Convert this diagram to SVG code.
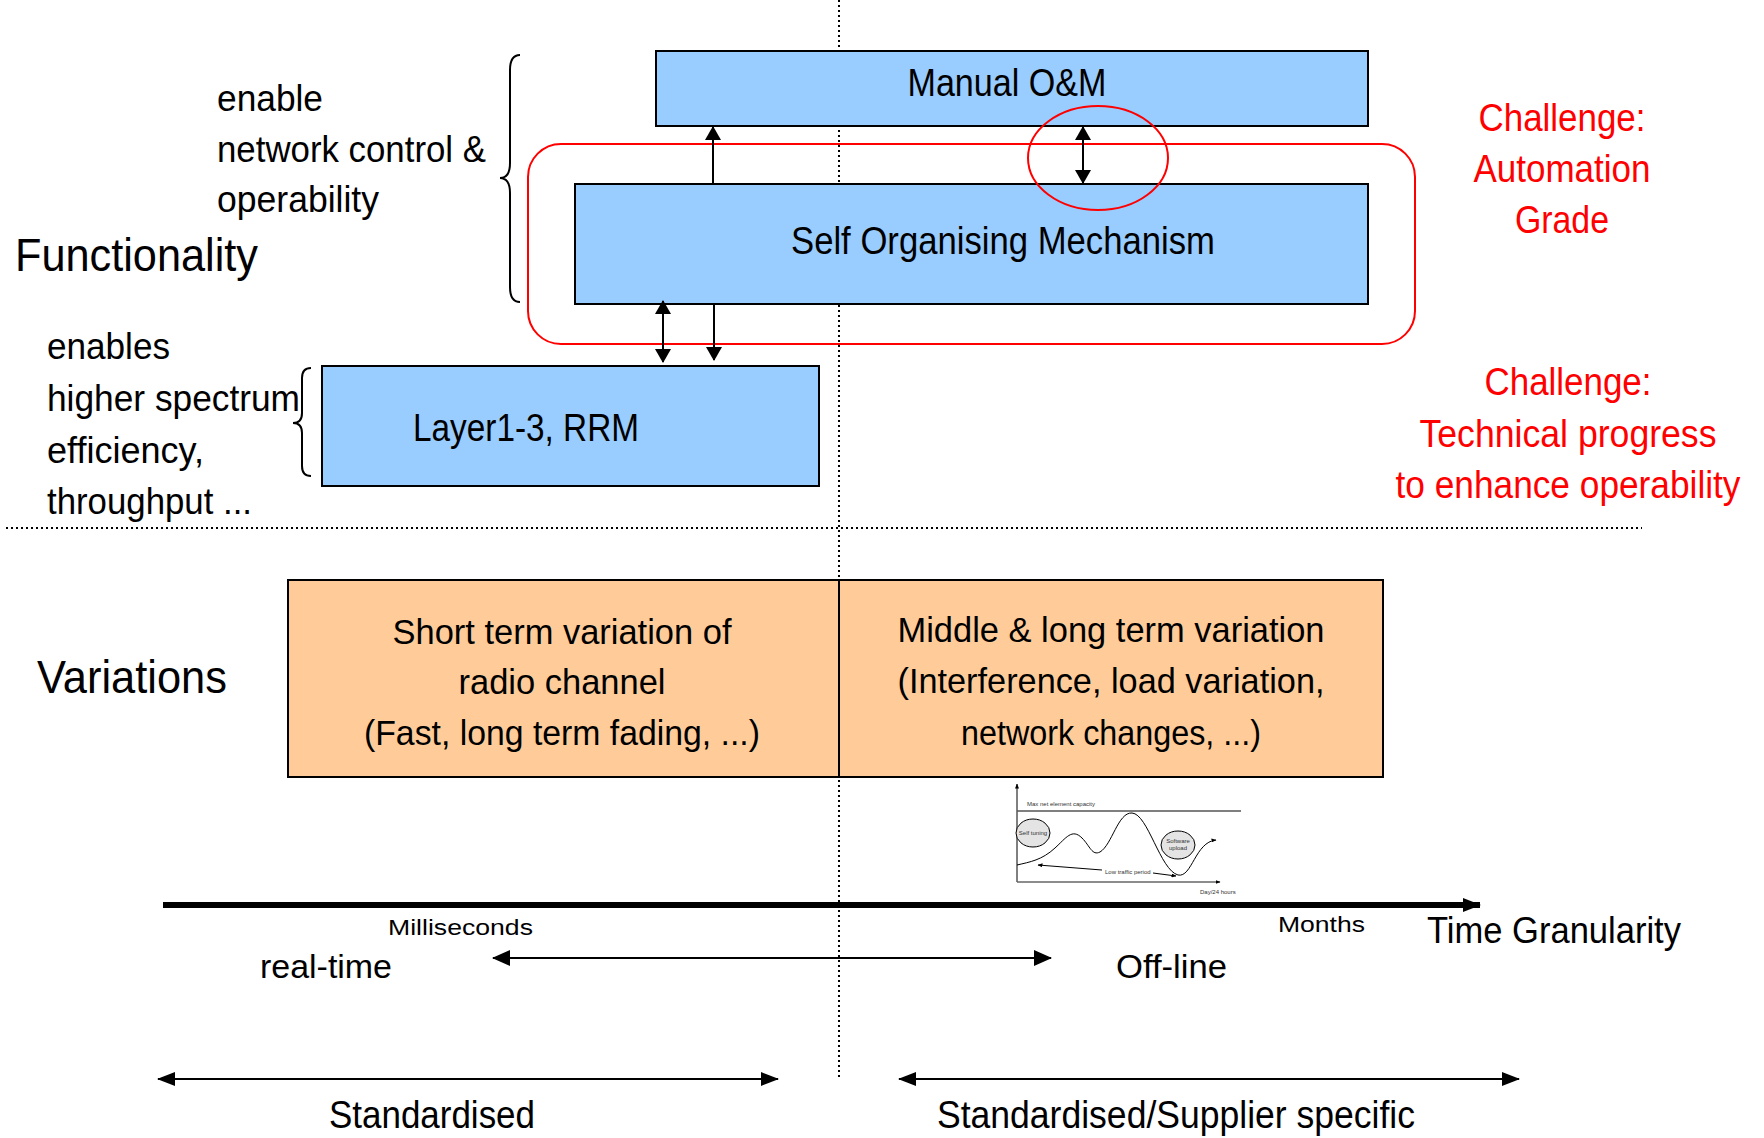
<svg xmlns="http://www.w3.org/2000/svg" width="1764" height="1138" viewBox="0 0 1764 1138">
<defs>
<style>
.t{font-family:"Liberation Sans",Arial,sans-serif;fill:#000}
.c{font-size:36px}
.red{fill:#ff0000;font-size:38px}
.box{fill:#99ccff;stroke:#000;stroke-width:2}
.obox{fill:#ffcc99;stroke:#000;stroke-width:2}
.ln{stroke:#000;stroke-width:2;fill:none}
.dot{stroke:#000;stroke-width:2;stroke-dasharray:2 3;fill:none}
.tiny{font-family:"Liberation Sans",Arial,sans-serif;font-size:6px;fill:#333}
</style>
<marker id="ah" markerUnits="userSpaceOnUse" markerWidth="16" markerHeight="16" viewBox="0 0 14 16" refX="13" refY="8" orient="auto-start-reverse"><path d="M0,0 L14,8 L0,16 Z" fill="#000"/></marker>
<marker id="ah2" markerUnits="userSpaceOnUse" markerWidth="18" markerHeight="14" viewBox="0 0 18 14" refX="17" refY="7" orient="auto-start-reverse"><path d="M0,0 L18,7 L0,14 Z" fill="#000"/></marker>
<marker id="ah3" markerUnits="userSpaceOnUse" markerWidth="18" markerHeight="16" viewBox="0 0 18 16" refX="17" refY="8" orient="auto-start-reverse"><path d="M0,0 L18,8 L0,16 Z" fill="#000"/></marker>
<marker id="sm" markerUnits="userSpaceOnUse" markerWidth="5" markerHeight="4" viewBox="0 0 5 4" refX="4.5" refY="2" orient="auto"><path d="M0,0 L5,2 L0,4 Z" fill="#000"/></marker>
</defs>
<rect width="1764" height="1138" fill="#fff"/>

<!-- separators -->
<line class="dot" x1="839" y1="0" x2="839" y2="1078"/>
<line class="dot" x1="6" y1="528" x2="1642" y2="528"/>

<!-- left labels -->
<g id="label-functionality">
<text class="t" x="15" y="271" font-size="46" textLength="243" lengthAdjust="spacingAndGlyphs">Functionality</text>
</g>
<g id="label-enable">
<text class="t c" x="217" y="111" textLength="106" lengthAdjust="spacingAndGlyphs">enable</text>
<text class="t c" x="217" y="162" textLength="269" lengthAdjust="spacingAndGlyphs">network control &amp;</text>
<text class="t c" x="217" y="212" textLength="162" lengthAdjust="spacingAndGlyphs">operability</text>
<path class="ln" stroke-width="1.5" d="M520,55 Q510,55 510,70 L510,163 Q510,178 500,178 Q510,178 510,193 L510,287 Q510,302 520,302"/>
</g>
<g id="label-enables">
<text class="t c" x="47" y="359" textLength="123" lengthAdjust="spacingAndGlyphs">enables</text>
<text class="t c" x="47" y="411" textLength="253" lengthAdjust="spacingAndGlyphs">higher spectrum</text>
<text class="t c" x="47" y="463" textLength="157" lengthAdjust="spacingAndGlyphs">efficiency,</text>
<text class="t c" x="47" y="514" textLength="205" lengthAdjust="spacingAndGlyphs">throughput ...</text>
<path class="ln" stroke-width="1.5" d="M311,368 Q302,368 302,378 L302,413 Q302,423 293,423 Q302,423 302,433 L302,466 Q302,476 311,476"/>
</g>

<!-- red challenge group -->
<g id="challenge-frame">
<rect x="528" y="144" width="887" height="200" rx="33" ry="33" fill="none" stroke="#ff0000" stroke-width="2"/>
</g>

<g id="node-manual">
<rect class="box" x="656" y="51" width="712" height="75"/>
<text class="t" x="1007" y="96" font-size="38" text-anchor="middle" textLength="199" lengthAdjust="spacingAndGlyphs">Manual O&amp;M</text>
</g>
<g id="node-som">
<rect class="box" x="575" y="184" width="793" height="120"/>
<text class="t" x="1003" y="254" font-size="38" text-anchor="middle" textLength="424" lengthAdjust="spacingAndGlyphs">Self Organising Mechanism</text>
</g>
<g id="node-layer">
<rect class="box" x="322" y="366" width="497" height="120"/>
<text class="t" x="526" y="441" font-size="38" text-anchor="middle" textLength="226" lengthAdjust="spacingAndGlyphs">Layer1-3, RRM</text>
</g>

<g id="challenge-ellipse">
<ellipse cx="1098" cy="158" rx="70" ry="52" fill="none" stroke="#ff0000" stroke-width="2"/>
</g>

<g id="challenge-text-1">
<text class="t red" x="1562" y="131" text-anchor="middle" textLength="167" lengthAdjust="spacingAndGlyphs">Challenge:</text>
<text class="t red" x="1562" y="182" text-anchor="middle" textLength="177" lengthAdjust="spacingAndGlyphs">Automation</text>
<text class="t red" x="1562" y="233" text-anchor="middle" textLength="94" lengthAdjust="spacingAndGlyphs">Grade</text>
</g>
<g id="challenge-text-2">
<text class="t red" x="1568" y="395" text-anchor="middle" textLength="167" lengthAdjust="spacingAndGlyphs">Challenge:</text>
<text class="t red" x="1568" y="447" text-anchor="middle" textLength="297" lengthAdjust="spacingAndGlyphs">Technical progress</text>
<text class="t red" x="1568" y="498" text-anchor="middle" textLength="345" lengthAdjust="spacingAndGlyphs">to enhance operability</text>
</g>

<!-- connectors -->
<g id="connectors">
<line class="ln" x1="713" y1="184" x2="713" y2="127" marker-end="url(#ah)"/>
<line class="ln" x1="1083" y1="127" x2="1083" y2="183" marker-start="url(#ah)" marker-end="url(#ah)"/>
<line class="ln" x1="663" y1="301" x2="663" y2="362" marker-start="url(#ah)" marker-end="url(#ah)"/>
<line class="ln" x1="714" y1="304" x2="714" y2="360" marker-end="url(#ah)"/>
</g>

<!-- variations -->
<g id="label-variations">
<text class="t" x="37" y="693" font-size="46" textLength="190" lengthAdjust="spacingAndGlyphs">Variations</text>
</g>
<g id="node-short">
<rect class="obox" x="288" y="580" width="551" height="197"/>
<text class="t" x="562" y="644" font-size="35" text-anchor="middle" textLength="339" lengthAdjust="spacingAndGlyphs">Short term variation of</text>
<text class="t" x="562" y="694" font-size="35" text-anchor="middle" textLength="207" lengthAdjust="spacingAndGlyphs">radio channel</text>
<text class="t" x="562" y="745" font-size="35" text-anchor="middle" textLength="396" lengthAdjust="spacingAndGlyphs">(Fast, long term fading, ...)</text>
</g>
<g id="node-middle">
<rect class="obox" x="839" y="580" width="544" height="197"/>
<text class="t" x="1111" y="642" font-size="35" text-anchor="middle" textLength="427" lengthAdjust="spacingAndGlyphs">Middle &amp; long term variation</text>
<text class="t" x="1111" y="693" font-size="35" text-anchor="middle" textLength="427" lengthAdjust="spacingAndGlyphs">(Interference, load variation,</text>
<text class="t" x="1111" y="745" font-size="35" text-anchor="middle" textLength="300" lengthAdjust="spacingAndGlyphs">network changes, ...)</text>
</g>

<!-- small chart -->
<g id="chart">
<line x1="1017" y1="882" x2="1017" y2="784" stroke="#000" stroke-width="1" marker-end="url(#sm)"/>
<line x1="1017" y1="882" x2="1220" y2="882" stroke="#666" stroke-width="1.5" marker-end="url(#sm)"/>
<line x1="1017" y1="811" x2="1241" y2="811" stroke="#555" stroke-width="1.5"/>
<text class="tiny" x="1027" y="806" font-size="5.5">Max net element capacity</text>
<path d="M1017,865 C1030,862 1042,860 1055,848 C1066,838 1072,828 1082,838 C1090,846 1092,856 1100,852 C1112,845 1118,812 1132,813 C1148,814 1160,870 1178,875 C1192,878 1195,842 1216,840" fill="none" stroke="#000" stroke-width="1" marker-end="url(#sm)"/>
<ellipse cx="1033" cy="833" rx="17" ry="14" fill="#e4e4e4" stroke="#000" stroke-width="1"/>
<text class="tiny" x="1033" y="835" font-size="5" text-anchor="middle">Self tuning</text>
<ellipse cx="1178" cy="845" rx="17" ry="14" fill="#e4e4e4" stroke="#000" stroke-width="1"/>
<text class="tiny" x="1178" y="843" font-size="5" text-anchor="middle">Software</text>
<text class="tiny" x="1178" y="850" font-size="5" text-anchor="middle">upload</text>
<text class="tiny" x="1105" y="874" font-size="5.5">Low traffic period</text>
<line x1="1102" y1="870" x2="1038" y2="865" stroke="#000" stroke-width="1" marker-end="url(#sm)"/>
<line x1="1153" y1="873" x2="1176" y2="876" stroke="#000" stroke-width="1" marker-end="url(#sm)"/>
<text class="tiny" x="1200" y="894" font-size="5">Day/24 hours</text>
</g>

<!-- time axis -->
<g id="time-axis">
<line x1="163" y1="905" x2="1480" y2="905" stroke="#000" stroke-width="6" marker-end="url(#ah2)"/>
<text class="t" x="388" y="935" font-size="22" textLength="145" lengthAdjust="spacingAndGlyphs">Milliseconds</text>
<text class="t" x="1278" y="932" font-size="22" textLength="87" lengthAdjust="spacingAndGlyphs">Months</text>
<text class="t" x="1427" y="943" font-size="37" textLength="254" lengthAdjust="spacingAndGlyphs">Time Granularity</text>
</g>
<g id="realtime-offline">
<text class="t" x="260" y="978" font-size="34" textLength="132" lengthAdjust="spacingAndGlyphs">real-time</text>
<text class="t" x="1116" y="978" font-size="34" textLength="111" lengthAdjust="spacingAndGlyphs">Off-line</text>
<line class="ln" stroke-width="2.5" x1="493" y1="958" x2="1051" y2="958" marker-start="url(#ah3)" marker-end="url(#ah3)"/>
</g>
<g id="standardisation">
<line class="ln" stroke-width="2.5" x1="158" y1="1079" x2="778" y2="1079" marker-start="url(#ah2)" marker-end="url(#ah2)"/>
<line class="ln" stroke-width="2.5" x1="899" y1="1079" x2="1519" y2="1079" marker-start="url(#ah2)" marker-end="url(#ah2)"/>
<text class="t" x="329" y="1128" font-size="38" textLength="206" lengthAdjust="spacingAndGlyphs">Standardised</text>
<text class="t" x="937" y="1128" font-size="38" textLength="478" lengthAdjust="spacingAndGlyphs">Standardised/Supplier specific</text>
</g>
</svg>
